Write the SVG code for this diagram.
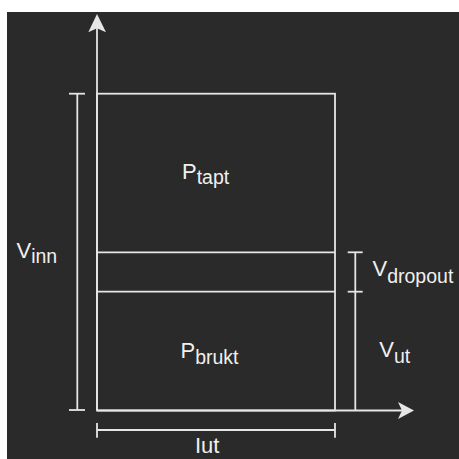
<svg xmlns="http://www.w3.org/2000/svg" width="459" height="459" viewBox="0 0 459 459">
  <style>
    .ln{stroke:#e6e6e6;stroke-width:1.8;fill:none}
    .ah{fill:#e6e6e6;stroke:none}
    .t{font-family:"Liberation Sans",Arial,sans-serif;font-size:22px;fill:#f0f0f0}
    .s{font-size:19.5px}
  </style>
  <rect x="0" y="0" width="459" height="459" fill="#ffffff"/>
  <rect id="background" x="7" y="12" width="452" height="447" fill="#2a2a2a"/>
  <g id="connectors">
    <g id="y-axis">
      <line class="ln" x1="97" y1="410.5" x2="97" y2="28"/>
      <path class="ah" d="M97 14 L106 32.3 L97 28.3 L88.3 32.3 Z"/>
    </g>
    <g id="x-axis">
      <line class="ln" x1="97" y1="410.5" x2="402" y2="410.5"/>
      <path class="ah" d="M414 410.5 L398 419 L402 410.5 L398 402 Z"/>
    </g>
    <g id="dim-vinn">
      <line class="ln" x1="77.3" y1="93.7" x2="77.3" y2="410"/>
      <line class="ln" x1="69" y1="93.7" x2="85" y2="93.7"/>
      <line class="ln" x1="69" y1="410" x2="85" y2="410"/>
    </g>
    <g id="dim-right">
      <line class="ln" x1="355.3" y1="252.3" x2="355.3" y2="410.5"/>
      <line class="ln" x1="347.7" y1="252.3" x2="362.7" y2="252.3"/>
      <line class="ln" x1="347.7" y1="291.7" x2="362.7" y2="291.7"/>
    </g>
    <g id="dim-iut">
      <line class="ln" x1="97" y1="430" x2="335" y2="430"/>
      <line class="ln" x1="97" y1="423" x2="97" y2="437.7"/>
      <line class="ln" x1="335" y1="423" x2="335" y2="437.7"/>
    </g>
  </g>
  <g id="box">
    <rect class="ln" x="97" y="93.7" width="238" height="316.8"/>
    <line class="ln" x1="97" y1="252.3" x2="335" y2="252.3"/>
    <line class="ln" x1="97" y1="291.7" x2="335" y2="291.7"/>
  </g>
  <g id="label-ptapt"><text class="t" x="182" y="179">P<tspan class="s" dy="5">tapt</tspan></text></g>
  <g id="label-pbrukt"><text class="t" x="180.5" y="358.3">P<tspan class="s" dy="6">brukt</tspan></text></g>
  <g id="label-vinn"><text class="t" x="16.5" y="257.7">V<tspan class="s" dy="5.6">inn</tspan></text></g>
  <g id="label-vdropout"><text class="t" x="372.5" y="276">V<tspan class="s" dy="7">dropout</tspan></text></g>
  <g id="label-vut"><text class="t" x="379.3" y="357.3">V<tspan class="s" dy="5.4">ut</tspan></text></g>
  <g id="label-iut"><text class="t" x="195" y="453">Iut</text></g>
</svg>
